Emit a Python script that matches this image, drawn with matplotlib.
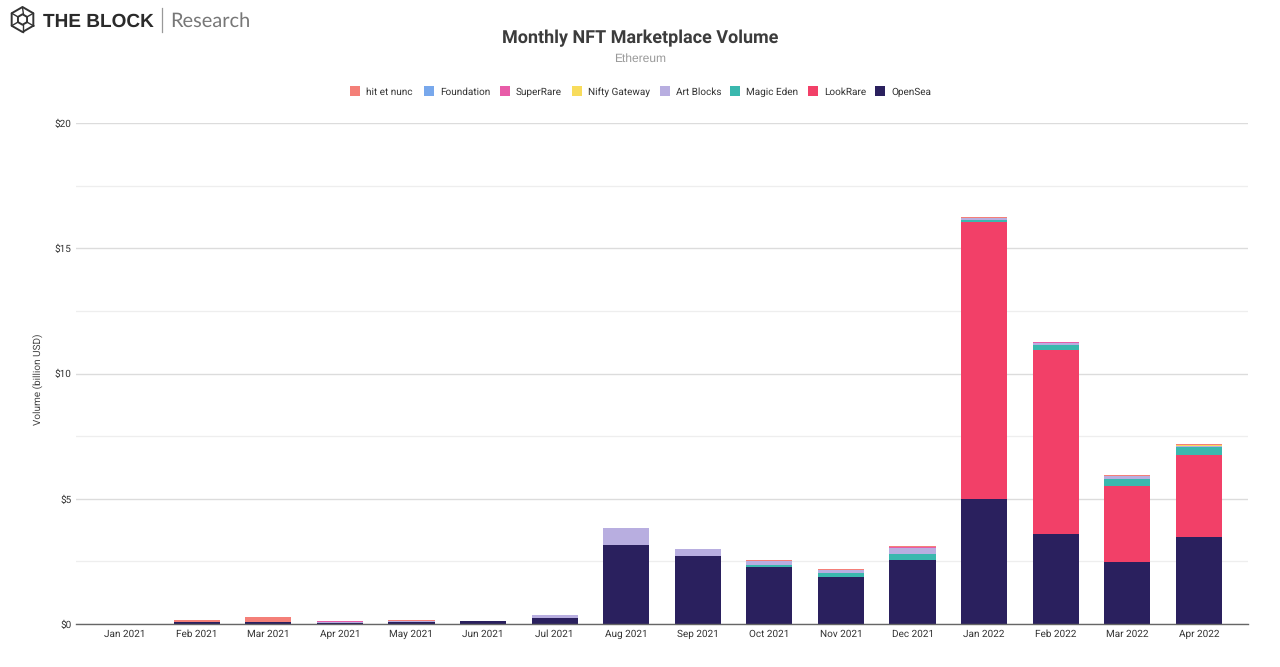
import numpy as np
import matplotlib
matplotlib.use("Agg")
import matplotlib.pyplot as plt
from matplotlib.lines import Line2D
from matplotlib.patches import Rectangle
from matplotlib.ticker import MultipleLocator, FuncFormatter

months = ["Jan 2021", "Feb 2021", "Mar 2021", "Apr 2021", "May 2021", "Jun 2021", "Jul 2021", "Aug 2021",
          "Sep 2021", "Oct 2021", "Nov 2021", "Dec 2021", "Jan 2022", "Feb 2022", "Mar 2022", "Apr 2022"]

# billion USD
opensea = [0.01, 0.07, 0.09, 0.05, 0.07, 0.10, 0.25, 3.15, 2.70, 2.28, 1.88, 2.55, 4.98, 3.58, 2.48, 3.47]
looksrare = [0, 0, 0, 0, 0, 0, 0, 0, 0, 0, 0, 0, 11.05, 7.36, 3.03, 3.28]
magic_eden = [0, 0, 0, 0, 0, 0, 0, 0, 0, 0.08, 0.16, 0.25, 0.10, 0.20, 0.27, 0.32]
art_blocks = [0, 0, 0, 0.04, 0.05, 0, 0.11, 0.67, 0.31, 0.15, 0.10, 0.25, 0.07, 0.08, 0.13, 0.05]
nifty_gateway = [0, 0, 0, 0, 0, 0, 0, 0, 0, 0, 0, 0, 0.01, 0, 0.01, 0.02]
superrare = [0, 0, 0, 0.01, 0.01, 0, 0, 0, 0, 0.02, 0.01, 0.03, 0.01, 0.02, 0, 0.01]
foundation = [0, 0, 0, 0, 0, 0, 0, 0, 0, 0, 0, 0.01, 0, 0.01, 0, 0]
hit_et_nunc = [0, 0.08, 0.19, 0.03, 0.01, 0, 0, 0.02, 0, 0.03, 0.04, 0.03, 0.03, 0.02, 0.01, 0.02]

series = [
    ("OpenSea", opensea, "#2a205e"),
    ("LookRare", looksrare, "#f24068"),
    ("Magic Eden", magic_eden, "#3ab8ae"),
    ("Art Blocks", art_blocks, "#b8aee0"),
    ("Nifty Gateway", nifty_gateway, "#f8dc5c"),
    ("SuperRare", superrare, "#e85ca8"),
    ("Foundation", foundation, "#78a8ec"),
    ("hit et nunc", hit_et_nunc, "#f47f78"),
]

W, H = 1280, 667
plt.rcParams["font.family"] = ["Roboto", "DejaVu Sans"]
plt.rcParams["text.hinting"] = "none"
plt.rcParams["text.hinting_factor"] = 1
fig = plt.figure(figsize=(W / 100, H / 100), dpi=100, facecolor="white")

left, right, top, bottom = 76, 1248, 123, 624
ax = fig.add_axes([left / W, 1 - bottom / H, (right - left) / W, (bottom - top) / H])

x = np.arange(len(months))
base = np.zeros(len(months))
for name, vals, color in series:
    ax.bar(x, vals, width=0.645, bottom=base, color=color, linewidth=0, zorder=3)
    base += np.array(vals)

ax.set_xlim(-0.685, 15.685)
ax.set_ylim(0, 20)
ax.yaxis.set_major_locator(MultipleLocator(5))
ax.yaxis.set_minor_locator(MultipleLocator(2.5))
ax.yaxis.set_major_formatter(FuncFormatter(lambda v, p: f"${v:.0f}"))
ax.grid(axis="y", which="major", color="#dcdcdc", linewidth=1.0, zorder=0)
ax.grid(axis="y", which="minor", color="#eeeeee", linewidth=0.9, zorder=0)
ax.set_axisbelow(True)
for s in ["top", "right", "left"]:
    ax.spines[s].set_visible(False)
ax.spines["bottom"].set_color("#666666")
ax.spines["bottom"].set_linewidth(1.0)
ax.spines["bottom"].set_zorder(5)
ax.set_xticks(x)
ax.set_xticklabels(months)
ax.tick_params(axis="both", which="both", length=0)
ax.tick_params(axis="x", labelsize=7.1, labelcolor="#333333", pad=9.4)
ax.tick_params(axis="y", labelsize=7.1, labelcolor="#333333", pad=3)
for lab in ax.get_xticklabels():
    lab.set_va("baseline")


def px(x0, y0):
    return x0 / W, 1 - y0 / H


fig.text(*px(37.5, 379), "Volume (billion USD)", rotation=90, ha="center", va="center",
         fontsize=7.1, color="#444444")
fig.text(*px(640, 43.5), "Monthly NFT Marketplace Volume", ha="center", va="baseline",
         fontsize=13, fontweight="bold", color="#3c3c3c")
fig.text(*px(640, 62), "Ethereum", ha="center", va="baseline", fontsize=8.6,
         family="Liberation Sans", color="#999999")

# legend, hand placed like the original row
legend_x = [350, 424, 500, 572, 660, 730, 808, 875]
for (name, vals, color), lx in zip(reversed(series), legend_x):
    fig.add_artist(Rectangle(px(lx, 96), 10 / W, 10 / H, transform=fig.transFigure,
                             facecolor=color, edgecolor="none"))
    fig.text(*px(lx + 16, 94.5), name, ha="left", va="baseline", fontsize=7.1, color="#333333")

# logo: hexagon mark plus wordmark
hx, hy, r = 22.5, 19.5, 12.5
ang = np.radians(np.arange(30, 391, 60))
outer_x = hx + r * np.cos(ang)
outer_y = hy + r * np.sin(ang)
inner_x = hx + 0.42 * r * np.cos(ang)
inner_y = hy + 0.42 * r * np.sin(ang)
fig.add_artist(Line2D(outer_x / W, 1 - outer_y / H, color="#333333", linewidth=1.4, transform=fig.transFigure))
fig.add_artist(Line2D(inner_x / W, 1 - inner_y / H, color="#333333", linewidth=1.4, transform=fig.transFigure))
for i in range(6):
    fig.add_artist(Line2D([outer_x[i] / W, inner_x[i] / W], [1 - outer_y[i] / H, 1 - inner_y[i] / H],
                          color="#333333", linewidth=1.0, transform=fig.transFigure))
fig.text(*px(43, 26.5), "THE BLOCK", ha="left", va="baseline", fontsize=13.6, fontweight="bold",
         family="Liberation Sans", color="#2a2a2a")
fig.add_artist(Line2D([162 / W, 162 / W], [1 - 8 / H, 1 - 32 / H], color="#999999", linewidth=0.9,
                      transform=fig.transFigure))
fig.text(*px(170, 26.5), "Research", ha="left", va="baseline", fontsize=14.1, family="Lato",
         color="#777777")

fig.savefig("out.png", dpi=100)
